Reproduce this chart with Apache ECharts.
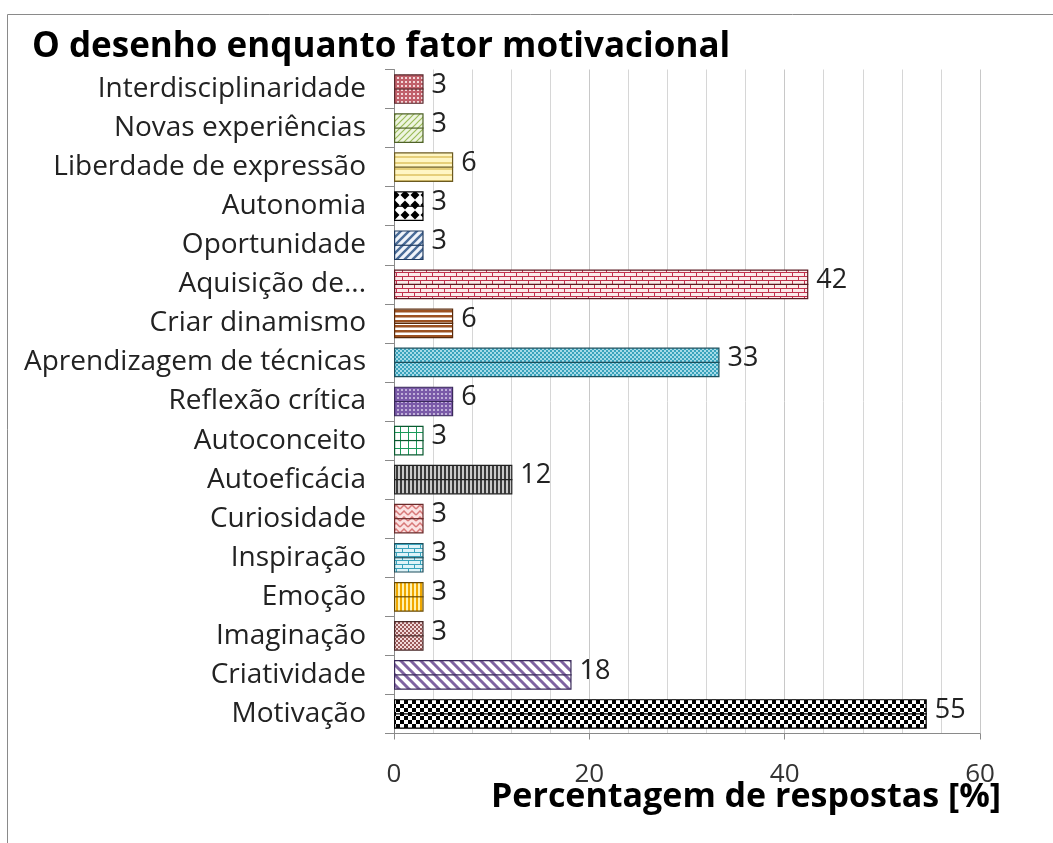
<!DOCTYPE html>
<html><head><meta charset="utf-8">
<script src="https://cdn.jsdelivr.net/npm/echarts@6/dist/echarts.min.js"></script>
<style>html,body{margin:0;padding:0;background:#fff}#c{width:1053px;height:843px}</style>
</head><body><div id="c"></div>
<script>
const titleText = 'O desenho enquanto fator motivacional';
const axisTitle = 'Percentagem de respostas [%]';
const categories = ['Interdisciplinaridade','Novas experiências','Liberdade de expressão','Autonomia','Oportunidade','Aquisição de...','Criar dinamismo','Aprendizagem de técnicas','Reflexão crítica','Autoconceito','Autoeficácia','Curiosidade','Inspiração','Emoção','Imaginação','Criatividade','Motivação'];
const values = [3.03,3.03,6.06,3.03,3.03,42.42,6.06,33.33,6.06,3.03,12.12,3.03,3.03,3.03,3.03,18.18,54.55];
const xTicks = [0,20,40,60];

function pat(kind, fg, bg){
  const c = document.createElement('canvas');
  const sizes = {dots:[4,4],diagUp:[6,6],wdiagUp:[8,8],diagDown:[10,10],hstripe:[6,6],hstripe2:[5,5],vstripe:[4,4],diamonds:[10,10],brick:[12,8],smallcheck:[4,4],check:[8,8],grid:[8,8],zigzag:[8,6]};
  const [w,h] = sizes[kind];
  c.width=w;c.height=h;
  const g=c.getContext('2d');
  g.fillStyle=bg;g.fillRect(0,0,w,h);
  g.fillStyle=fg;g.strokeStyle=fg;
  switch(kind){
    case 'dots': g.fillRect(1,1,2,2); break;
    case 'diagUp': g.lineWidth=1.2; g.beginPath(); g.moveTo(-1,h+1);g.lineTo(w+1,-1); g.moveTo(-1,1);g.lineTo(1,-1); g.moveTo(w-1,h+1);g.lineTo(w+1,h-1); g.stroke(); break;
    case 'wdiagUp': g.lineWidth=2.4; g.beginPath(); g.moveTo(-1,h+1);g.lineTo(w+1,-1); g.moveTo(-2,2);g.lineTo(2,-2); g.moveTo(w-2,h+2);g.lineTo(w+2,h-2); g.stroke(); break;
    case 'diagDown': g.lineWidth=3; g.beginPath(); g.moveTo(-1,-1);g.lineTo(w+1,h+1); g.moveTo(w-2,-2);g.lineTo(w+2,2); g.moveTo(-2,h-2);g.lineTo(2,h+2); g.stroke(); break;
    case 'hstripe': g.fillRect(0,0,w,2); break;
    case 'hstripe2': g.fillRect(0,0,w,2.5); break;
    case 'vstripe': g.fillRect(0,0,2,h); break;
    case 'diamonds': g.beginPath(); g.moveTo(5,0.5);g.lineTo(9.5,5);g.lineTo(5,9.5);g.lineTo(0.5,5);g.closePath();g.fill(); break;
    case 'brick': g.fillRect(0,0,w,1); g.fillRect(0,4,w,1); g.fillRect(0,0,1,4); g.fillRect(6,4,1,4); break;
    case 'smallcheck': g.fillRect(0,0,2,2); g.fillRect(2,2,2,2); break;
    case 'check': g.fillRect(0,0,4,4); g.fillRect(4,4,4,4); break;
    case 'grid': g.fillRect(0,0,w,1); g.fillRect(0,0,1,h); break;
    case 'zigzag': g.lineWidth=1.5; g.beginPath(); g.moveTo(0,5);g.lineTo(4,1);g.lineTo(8,5); g.stroke(); break;
  }
  return {image:c, repeat:'repeat'};
}

const barStyles = [
  [pat('dots','#f3d6d8','#c0606a'),'#5a2a2e'],
  [pat('diagUp','#9bbb59','#eef5e0'),'#4f6228'],
  [pat('hstripe','#e6cf7a','#fff6c4'),'#6b5a20'],
  [pat('diamonds','#000000','#ffffff'),'#000000'],
  [pat('wdiagUp','#4a6c98','#f0f4fa'),'#1f3a5f'],
  [pat('brick','#c0304d','#fbeaea'),'#5a1a22'],
  [pat('hstripe2','#9c5222','#ffffff'),'#5a2a0a'],
  [pat('smallcheck','#3aa3bc','#a6dbe8'),'#1d4f5c'],
  [pat('dots','#c0b0d8','#7a5aa8'),'#3a2a5a'],
  [pat('grid','#1a9a5a','#ffffff'),'#0a5a30'],
  [pat('vstripe','#3a3a3a','#c8c8c8'),'#222222'],
  [pat('zigzag','#d87878','#fbe2e2'),'#6a2a2a'],
  [pat('brick','#3aa3bc','#dff3f8'),'#1d4f5c'],
  [pat('vstripe','#f0a800','#fff2b0'),'#6a4a00'],
  [pat('smallcheck','#9a5a5a','#f2dada'),'#4a2a2a'],
  [pat('diagDown','#8064a2','#ffffff'),'#3a2a5a'],
  [pat('check','#000000','#ffffff'),'#000000']
];

const font = '"Open Sans", "Noto Sans", sans-serif';
const chart = echarts.init(document.getElementById('c'), null, {renderer:'canvas'});
chart.setOption({
  animation:false,
  backgroundColor:'#ffffff',
  title:[
    {text:titleText,left:27,top:25,textStyle:{fontFamily:font,fontWeight:'bold',fontSize:35,color:'#000'}},
    {text:axisTitle,left:486,top:775,textStyle:{fontFamily:font,fontWeight:'bold',fontSize:34,color:'#000'}}
  ],
  graphic:[{type:'rect',left:5,top:12,shape:{width:1200,height:1000},style:{fill:null,stroke:'#8a8a8a',lineWidth:1},silent:true,z:-1}],
  grid:{left:394,right:73,top:69.5,bottom:109.5,containLabel:false},
  xAxis:{type:'value',min:xTicks[0],max:xTicks[xTicks.length-1],interval:xTicks[1]-xTicks[0],
    axisLine:{show:true,lineStyle:{color:'#8a8a8a'}},
    axisTick:{show:true,length:6,lineStyle:{color:'#8a8a8a'}},
    axisLabel:{fontFamily:font,fontSize:26,color:'#333',margin:28},
    splitLine:{show:true,lineStyle:{color:'#c8c8c8'}},
    minorTick:{show:false,splitNumber:5},
    minorSplitLine:{show:true,lineStyle:{color:'#d6d6d6'}}
  },
  yAxis:{type:'category',data:categories,inverse:true,
    axisLine:{show:true,lineStyle:{color:'#8a8a8a'}},
    axisTick:{show:true,length:9,lineStyle:{color:'#8a8a8a'}},
    axisLabel:{fontFamily:font,fontSize:28,color:'#222',margin:28}
  },
  series:[
    {type:'bar',barWidth:'76%',
      data:values.map((v,i)=>({value:v,itemStyle:{color:barStyles[i][0],borderColor:barStyles[i][1],borderWidth:1.2}})),
      label:{show:true,position:'right',distance:8,offset:[0,-4],fontFamily:font,fontSize:27,color:'#222',formatter:p=>Math.round(p.value)}
    },
    {type:'custom',silent:true,z:3,
      data:values.map((v,i)=>[v,i]),
      renderItem:(params,api)=>{
        const a=api.coord([0,api.value(1)]);const b=api.coord([api.value(0),api.value(1)]);
        return {type:'line',shape:{x1:a[0],y1:a[1],x2:b[0],y2:b[1]},style:{stroke:barStyles[params.dataIndex][1],lineWidth:1.2}};
      }
    }
  ]
});
</script></body></html>
